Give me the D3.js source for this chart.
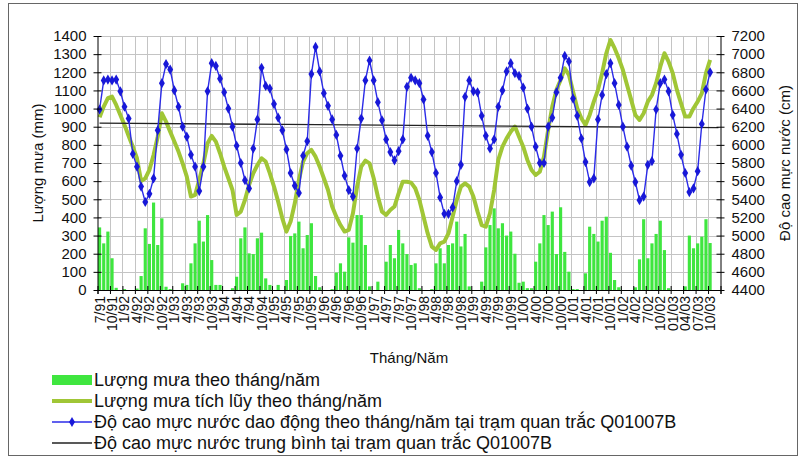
<!DOCTYPE html>
<html>
<head>
<meta charset="utf-8">
<script src="https://cdn.jsdelivr.net/npm/d3@7"></script>
<style>
  body { margin: 0; background: #fff; }
  svg { font-family: "Liberation Sans", Arial, sans-serif; }
</style>
</head>
<body>
<svg width="802" height="462"></svg>
<script>
// quarterly tick labels, 7/91 .. 10/03 (one every 3 months)
const tickLabels = [
  "7/91","10/91",
  "1/92","4/92","7/92","10/92", "1/93","4/93","7/93","10/93",
  "1/94","4/94","7/94","10/94", "1/95","4/95","7/95","10/95",
  "1/96","4/96","7/96","10/96", "1/97","4/97","7/97","10/97",
  "1/98","4/98","7/98","10/98", "1/99","4/99","7/99","10/99",
  "1/00","4/00","7/00","10/00", "1/01","4/01","7/01","10/01",
  "1/02","4/02","7/02","10/02", "01/03","04/03","07/03","10/03"
]
const monthCount = 150 // 7/91 .. 12/03

// monthly rainfall (mm), 7/91 .. 10/03
const rain = [
  345,257,322,175,12,0,5,0,0,8,77,340,
  254,482,248,395,18,5,0,0,37,28,147,257,
  382,267,413,165,28,28,0,0,10,73,285,345,
  202,198,285,316,64,28,0,28,0,55,298,312,
  377,230,303,368,77,15,0,0,5,96,147,101,
  290,261,413,413,248,20,0,46,0,156,248,175,
  331,257,198,138,147,10,0,0,5,147,230,147,
  248,257,377,240,309,20,0,0,46,235,358,450,
  340,368,300,322,200,40,46,10,10,156,257,413,
  358,432,198,456,210,101,5,5,0,92,349,309,
  267,382,404,205,55,15,0,0,0,15,169,390,
  175,257,309,382,220,10,0,0,0,20,300,230,
  257,294,390,259
]

// cumulative rainfall (mm)
const rainCum = [
  952,1011,1057,1066,1020,965,910,849,790,726,600,615,
  662,744,845,974,928,873,818,763,698,625,515,524,
  607,698,809,849,818,754,680,616,551,414,432,496,
  580,643,689,726,708,643,570,487,395,322,377,478,
  607,708,754,772,735,680,616,551,460,404,358,322,
  331,423,570,680,713,698,616,515,432,414,441,460,
  533,597,597,592,561,496,404,312,239,221,257,267,
  312,404,496,570,588,570,515,432,358,349,423,551,
  717,790,836,873,901,845,790,717,662,634,652,735,
  882,1011,1103,1158,1222,1186,1094,1002,947,910,965,1038,
  1103,1195,1305,1378,1333,1277,1213,1130,1048,965,937,974,
  1038,1075,1140,1231,1305,1259,1195,1103,1029,956,956,1002,
  1038,1084,1195,1268
]

// water level at Q01007B (cm)
const level = [
  6390,6710,6720,6710,6720,6590,6420,6290,5900,5760,5540,5370,
  5460,5630,6160,6680,6890,6830,6600,6420,6200,6090,5890,5760,
  5490,5760,6590,6900,6870,6730,6580,6400,6200,5990,5800,5610,
  5520,5960,6280,6850,6650,6620,6450,6300,6160,5950,5690,5550,
  5470,5880,6040,6780,7080,6810,6570,6430,6280,6110,5880,5660,
  5500,5430,5960,6290,6710,6930,6710,6470,6270,6060,5920,5830,
  5930,6060,6640,6740,6710,6680,6500,6100,5920,5690,5420,5240,
  5240,5310,5600,5780,6530,6710,6590,6580,6320,6100,5960,6060,
  6420,6600,6810,6900,6790,6760,6630,6400,6200,5980,5800,5800,
  6200,6300,6580,6740,6980,6920,6510,6320,6070,5810,5590,5630,
  6280,6550,6780,6900,6680,6440,6200,5980,5770,5590,5390,5430,
  5780,5820,6390,6680,6720,6590,6330,6120,5890,5690,5480,5520,
  5710,6230,6610,6800
]

// mean level line (cm), first and last month
const meanLevel = [6240, 6190]

const legendLabels = [
  "Lượng mưa theo tháng/năm",
  "Lượng mưa tích lũy theo tháng/năm",
  "Độ cao mực nước dao động theo tháng/năm tại trạm quan trắc Q01007B",
  "Độ cao mực nước trung bình tại trạm quan trắc Q01007B"
]

const svg = d3.select("svg")

// outer frame
svg.append("rect")
  .attr("x", 8.5).attr("y", 3.5)
  .attr("width", 789).attr("height", 452)
  .attr("fill", "none").attr("stroke", "#666").attr("stroke-width", 1)

const plotLeft = 97.5, plotRight = 720.5, plotTop = 36, plotBottom = 290

// scales
const xBand = d3.scaleBand()
  .domain(d3.range(monthCount))
  .range([plotLeft, plotRight])
const xLin = d3.scaleLinear().domain([0, monthCount]).range([plotLeft, plotRight])
const cx = i => xBand(i) + xBand.bandwidth() / 2

const yRain = d3.scaleLinear().domain([0, 1400]).range([plotBottom, plotTop])
const yLevel = d3.scaleLinear().domain([4400, 7200]).range([plotBottom, plotTop])

// grid
const grid = svg.append("g").attr("stroke", "#c4c4c4").attr("stroke-width", 1)
grid.selectAll("line.h")
  .data(d3.range(100, 1401, 100))
  .enter().append("line")
  .attr("x1", plotLeft).attr("x2", plotRight)
  .attr("y1", d => Math.round(yRain(d)) + 0.5)
  .attr("y2", d => Math.round(yRain(d)) + 0.5)
grid.selectAll("line.v")
  .data(d3.range(3, monthCount, 3))
  .enter().append("line")
  .attr("x1", d => Math.round(xLin(d)) + 0.5)
  .attr("x2", d => Math.round(xLin(d)) + 0.5)
  .attr("y1", plotTop).attr("y2", plotBottom)

// rain bars
svg.append("g")
  .selectAll("rect")
  .data(rain)
  .enter().append("rect")
  .attr("x", (d, i) => xBand(i) + xBand.bandwidth() * 0.12)
  .attr("width", xBand.bandwidth() * 0.76)
  .attr("y", d => yRain(d))
  .attr("height", d => plotBottom - yRain(d))
  .attr("fill", "#3fe63f")

// cumulative rain line
svg.append("path")
  .datum(rainCum)
  .attr("fill", "none")
  .attr("stroke", "#a0c636")
  .attr("stroke-width", 4)
  .attr("stroke-linejoin", "round")
  .attr("d", d3.line().x((d, i) => cx(i)).y(d => yRain(d)))

// mean level line
svg.append("path")
  .datum(meanLevel)
  .attr("fill", "none")
  .attr("stroke", "#222")
  .attr("stroke-width", 1.3)
  .attr("d", d3.line()
    .x((d, i) => cx(i * (monthCount - 1)))
    .y(d => yLevel(d)))

// water level line + diamonds
svg.append("path")
  .datum(level)
  .attr("fill", "none")
  .attr("stroke", "#2b2be8")
  .attr("stroke-width", 1.4)
  .attr("d", d3.line().x((d, i) => cx(i)).y(d => yLevel(d)))

const diamond = d3.symbol().type(d3.symbolDiamond).size(30)
svg.append("g")
  .selectAll("path")
  .data(level)
  .enter().append("path")
  .attr("d", diamond)
  .attr("transform", (d, i) => `translate(${cx(i)},${yLevel(d)})`)
  .attr("fill", "#1818d8")

// axes
const crossTicks = g => {
  g.selectAll(".tick line").attr("x1", -4).attr("x2", 4)
  g.select(".domain").attr("stroke", "#000")
  g.selectAll("text").attr("font-size", 15).attr("fill", "#111").attr("font-family", "Liberation Sans, Arial")
}
svg.append("g")
  .attr("transform", `translate(${plotLeft},0)`)
  .call(d3.axisLeft(yRain).tickValues(d3.range(0, 1401, 100)).tickFormat(d3.format("d"))
    .tickSize(4).tickPadding(7).tickSizeOuter(0))
  .call(crossTicks)

svg.append("g")
  .attr("transform", `translate(${plotRight},0)`)
  .call(d3.axisRight(yLevel).tickValues(d3.range(4400, 7201, 200)).tickFormat(d3.format("d"))
    .tickSize(4).tickPadding(7).tickSizeOuter(0))
  .call(crossTicks)

const xAxis = svg.append("g")
  .attr("transform", `translate(0,${plotBottom})`)
  .call(d3.axisBottom(xLin).tickValues(d3.range(0, monthCount + 1, 3)).tickFormat("").tickSizeOuter(0).tickSize(4))
xAxis.selectAll(".tick line").attr("y1", -4).attr("y2", 4)
xAxis.select(".domain").attr("stroke", "#000")

// x labels, rotated
svg.append("g")
  .selectAll("text")
  .data(tickLabels)
  .enter().append("text")
  .attr("transform", (d, i) => `translate(${cx(i * 3) + 5},${plotBottom + 6}) rotate(-90)`)
  .attr("text-anchor", "end")
  .attr("font-size", 14)
  .attr("fill", "#111")
  .text(d => d)

// axis titles
svg.append("text")
  .attr("transform", `translate(43,${(plotTop + plotBottom) / 2}) rotate(-90)`)
  .attr("text-anchor", "middle")
  .attr("font-size", 15)
  .attr("fill", "#111")
  .text("Lượng mưa (mm)")

svg.append("text")
  .attr("transform", `translate(790,${(plotTop + plotBottom) / 2}) rotate(-90)`)
  .attr("text-anchor", "middle")
  .attr("font-size", 15)
  .attr("fill", "#111")
  .text("Độ cao mực nước (cm)")

svg.append("text")
  .attr("x", (plotLeft + plotRight) / 2).attr("y", 363)
  .attr("text-anchor", "middle")
  .attr("font-size", 15)
  .attr("fill", "#111")
  .text("Tháng/Năm")

// legend
const legend = svg.append("g")
const rowY = i => 380 + i * 21
legend.append("rect").attr("x", 52).attr("y", rowY(0) - 5).attr("width", 40).attr("height", 10).attr("fill", "#3fe63f")
legend.append("line").attr("x1", 52).attr("x2", 92).attr("y1", rowY(1)).attr("y2", rowY(1)).attr("stroke", "#a0c636").attr("stroke-width", 4)
legend.append("line").attr("x1", 52).attr("x2", 92).attr("y1", rowY(2)).attr("y2", rowY(2)).attr("stroke", "#2b2be8").attr("stroke-width", 1.4)
legend.append("path").attr("d", diamond).attr("transform", `translate(72,${rowY(2)})`).attr("fill", "#1818d8")
legend.append("line").attr("x1", 52).attr("x2", 92).attr("y1", rowY(3)).attr("y2", rowY(3)).attr("stroke", "#222").attr("stroke-width", 1.3)

legend.selectAll("text")
  .data(legendLabels)
  .enter().append("text")
  .attr("x", 94)
  .attr("y", (d, i) => rowY(i))
  .attr("dy", "0.35em")
  .attr("font-size", 18)
  .attr("fill", "#111")
  .text(d => d)
</script>
</body>
</html>
